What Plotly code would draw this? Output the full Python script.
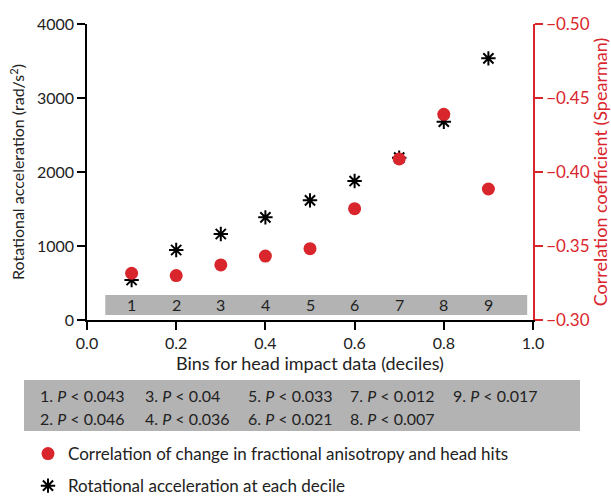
import plotly.graph_objects as go

# ---- data ----
bin_x = [0.1, 0.2, 0.3, 0.4, 0.5, 0.6, 0.7, 0.8, 0.9]
bin_labels = ["1", "2", "3", "4", "5", "6", "7", "8", "9"]
rot_accel = [540, 946, 1162, 1387, 1617, 1878, 2194, 2680, 3536]
spearman = [-0.3316, -0.3300, -0.3372, -0.3432, -0.3482, -0.3752, -0.4088, -0.4390, -0.3885]
p_labels = ["0.043", "0.046", "0.04", "0.036", "0.033", "0.021", "0.012", "0.007", "0.017"]

x_ticks = [0, 0.2, 0.4, 0.6, 0.8, 1.0]
y_ticks = [0, 1000, 2000, 3000, 4000]
y2_ticks = [-0.30, -0.35, -0.40, -0.45, -0.50]

RED = "#d9262c"
GRAY = "#b3b3b3"
TXT = "#222222"
FONT = "Lato"
FS = 16

W, H = 611, 496
L, R, T, B = 87, 78, 24, 176
PW, PH = W - L - R, H - T - B


def px_x(p):
    return (p - L) / PW


def px_y(p):
    return (H - B - p) / PH


fig = go.Figure()

fig.add_trace(go.Scatter(
    x=bin_x, y=spearman, yaxis="y2", mode="markers",
    name="Correlation of change in fractional anisotropy and head hits",
    marker=dict(symbol="circle", size=13, color=RED),
    legendgroup="a",
))
fig.add_trace(go.Scatter(
    x=bin_x, y=rot_accel, mode="markers",
    name="Rotational acceleration at each decile",
    marker=dict(symbol="asterisk-open", size=12, color="black",
                line=dict(color="black", width=2)),
    legendgroup="b",
))

shapes = [
    dict(type="rect", xref="x", yref="y", x0=0.041, x1=0.987, y0=68, y1=338,
         fillcolor=GRAY, line=dict(width=0), layer="below"),
    dict(type="rect", xref="paper", yref="paper",
         x0=px_x(24), x1=px_x(580), y0=px_y(431), y1=px_y(380),
         fillcolor=GRAY, line=dict(width=0), layer="below"),
]

annotations = []
for xv, lab in zip(bin_x, bin_labels):
    annotations.append(dict(x=xv, y=203, xref="x", yref="y", text=lab,
                            showarrow=False, font=dict(size=FS, color=TXT)))

col_px = [38, 143, 246, 348, 451]
row_py = [395, 418]
for i, (lab, pv) in enumerate(zip(bin_labels, p_labels)):
    col = i // 2
    row = i % 2
    annotations.append(dict(
        x=px_x(col_px[col]), y=px_y(row_py[row]), xref="paper", yref="paper",
        xanchor="left", yanchor="middle", showarrow=False,
        text=f"{lab}. <i>P</i> < {pv}", font=dict(size=16, color=TXT)))

fig.update_layout(
    width=W, height=H,
    margin=dict(l=L, r=R, t=T, b=B, autoexpand=False),
    plot_bgcolor="white", paper_bgcolor="white",
    font=dict(family=FONT, size=FS, color=TXT),
    shapes=shapes, annotations=annotations,
    showlegend=True,
    legend=dict(x=px_x(28), y=px_y(436), xanchor="left", yanchor="top",
                traceorder="grouped", tracegroupgap=7,
                font=dict(size=17, color=TXT), bgcolor="rgba(0,0,0,0)"),
    xaxis=dict(range=[0, 1], tickvals=x_ticks, tickformat=".1f",
               showline=True, linecolor="black", linewidth=1.5,
               ticks="outside", ticklen=8, tickwidth=1.5, tickcolor="black",
               showgrid=False, zeroline=False,
               title=dict(text="Bins for head impact data (deciles)", standoff=2,
                          font=dict(size=18))),
    yaxis=dict(range=[0, 4000], tickvals=y_ticks,
               showline=True, linecolor="black", linewidth=1.5,
               ticks="outside", ticklen=8, tickwidth=1.5, tickcolor="black",
               showgrid=False, zeroline=False,
               title=dict(text="Rotational acceleration (rad/s<sup>2</sup>)", standoff=8,
                          font=dict(size=16))),
    yaxis2=dict(range=[-0.30, -0.50], tickvals=y2_ticks, tickformat=".2f",
                overlaying="y", side="right",
                showline=True, linecolor=RED, linewidth=1.5,
                ticks="outside", ticklen=8, tickwidth=1.5, tickcolor=RED,
                tickfont=dict(color=RED, size=17), showgrid=False, zeroline=False,
                title=dict(text="Correlation coefficient (Spearman)",
                           font=dict(color=RED, size=18), standoff=1)),
)

fig.write_html("out.html", config={"displayModeBar": False},
               post_script="document.body.style.margin='0';document.body.style.overflow='hidden';")
